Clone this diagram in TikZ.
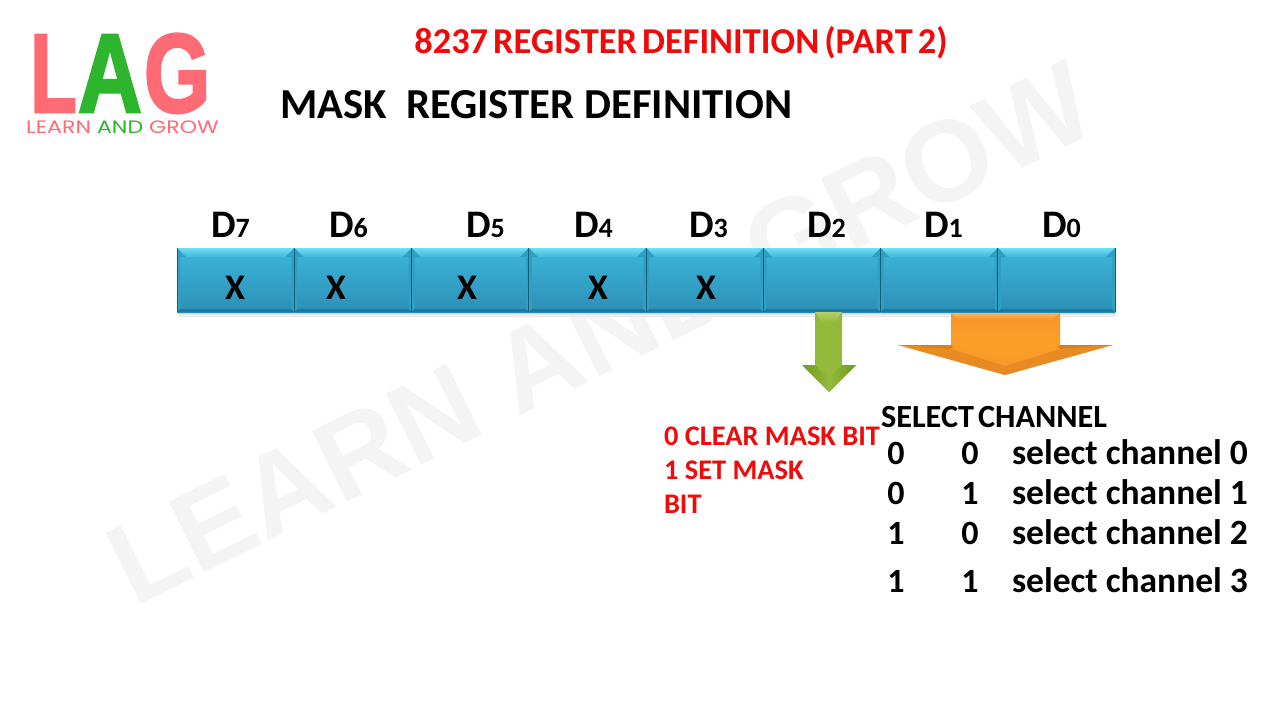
\documentclass[tikz,border=0pt]{standalone}
\usepackage{fontspec}
\setmainfont{Carlito}
\newfontfamily\logofont[BoldFeatures={FakeBold=2.5}]{Liberation Sans}
\newfontfamily\markfont{Liberation Sans}
\newfontfamily\logosub{Poppins}
\usetikzlibrary{calc,shadings}
\definecolor{lagred}{HTML}{FF6B75}
\definecolor{laggreen}{HTML}{2DB52D}
\definecolor{titlered}{HTML}{F00A0A}
\definecolor{cellmid}{HTML}{3DB6DB}
\definecolor{celllow}{HTML}{2C90B5}
\definecolor{celltopA}{HTML}{72DDF5}
\definecolor{celltopB}{HTML}{3FB8DC}
\definecolor{cellbot}{HTML}{22789A}
\definecolor{celledge}{HTML}{155D78}
\definecolor{cellcorner}{HTML}{2F9FC4}
\definecolor{markgrey}{HTML}{F4F4F4}
\definecolor{grnA}{HTML}{B4CF6A}
\definecolor{grnB}{HTML}{94BA3C}
\definecolor{grnC}{HTML}{6E9A1F}
\definecolor{orgA}{HTML}{F9B45A}
\definecolor{orgB}{HTML}{FB942B}
\definecolor{orgC}{HTML}{D97F1E}
\newcommand{\fs}[1]{\fontsize{#1}{#1}\selectfont}
\tikzset{
  x=1pt,y=-1pt,
  cellbox/.style={minimum width=117.25pt,minimum height=64pt,inner sep=0pt,outer sep=0pt,anchor=north west,
    top color=cellmid,bottom color=celllow},
  plain/.style={inner sep=0pt,outer sep=0pt,font=\bfseries,text=black},
  bitlabel/.style={plain,anchor=base west,font=\bfseries\fs{39}},
  xmark/.style={plain,font=\bfseries\fs{36}},
  redline/.style={inner sep=0pt,outer sep=0pt,anchor=base west,text=titlered,font=\bfseries\fs{28.4}},
  tablecell/.style={plain,anchor=base,font=\bfseries\fs{34}},
  tabletext/.style={plain,anchor=base west,font=\bfseries\fs{35.5}},
  logoletter/.style={inner sep=0pt,outer sep=0pt,anchor=base west,font=\logofont\bfseries\fs{112},transform shape},
}
\newcommand{\bitsub}[1]{D{\fs{28}#1}}
\begin{document}
\begin{tikzpicture}
\useasboundingbox (0,0) rectangle (1280,720);
\fill[white] (0,0) rectangle (1280,720);
% watermark
\node[inner sep=0pt,anchor=base,rotate=26.3,text=markgrey,font=\markfont\bfseries\fs{115}] (wm) at (618,368) {LEARN AND GROW};
% logo
\begin{scope}[shift={(35,112)},xscale=0.68]
\node[logoletter,text=lagred] (logoL) at (-7,0) {L};
\end{scope}
\begin{scope}[shift={(78,112)},xscale=0.79]
\node[logoletter,text=laggreen] (logoA) at (0,0) {A};
\end{scope}
\begin{scope}[shift={(144,112)},xscale=0.76]
\node[logoletter,text=lagred] (logoG) at (0,0) {G};
\end{scope}
\begin{scope}[shift={(26,133)},xscale=1.23]
\node[inner sep=0pt,anchor=base west,font=\logosub\fs{18},transform shape] (logotext) at (0,0)
  {\textcolor{lagred}{LEARN} \textcolor{laggreen}{AND} \textcolor{lagred}{GROW}};
\end{scope}
% titles
\node[inner sep=0pt,anchor=base,text=titlered,font=\bfseries\fs{36.4}] (title) at (681,53) {\spaceskip=0.14em 8237 REGISTER DEFINITION (PART 2)};
\node[plain,anchor=base west,font=\bfseries\fs{42.7}] (subtitle) at (280,118) {MASK\ \ REGISTER DEFINITION};
% soft shadow
\fill[black!8] (178,312) rectangle (1116,317);
\fill[black!18] (178,312) rectangle (1116,314);
% cells
\foreach \n/\xx in {7/177,6/294.25,5/411.5,4/528.75,3/646,2/763.25,1/880.5,0/997.75}{
  \node[cellbox] (c\n) at (\xx,248) {};
  \shade[top color=celltopA,bottom color=celltopB] (c\n.north west) -- (c\n.north east) -- ($(c\n.north east)+(-9,9)$) -- ($(c\n.north west)+(9,9)$) -- cycle;
  \fill[cellcorner] (c\n.north west) -- ($(c\n.north west)+(9,9)$) -- ($(c\n.north west)+(3,9)$) -- ($(c\n.south west)+(3,-3)$) -- (c\n.south west) -- cycle;
  \fill[cellcorner] (c\n.north east) -- ($(c\n.north east)+(-9,9)$) -- ($(c\n.north east)+(-3,9)$) -- ($(c\n.south east)+(-3,-3)$) -- (c\n.south east) -- cycle;
  \fill[cellbot] (c\n.south west) -- (c\n.south east) -- ($(c\n.south east)+(-3,-3)$) -- ($(c\n.south west)+(3,-3)$) -- cycle;
}
\foreach \n in {7,6,5,4,3,2,1,0}{
  \draw[celledge,line width=0.9pt] (c\n.north west) -- (c\n.south west);
  \draw[celledge,line width=0.9pt] (c\n.north east) -- (c\n.south east);
}
% bit labels
\foreach \n/\xx in {7/211,6/329,5/466,4/574,3/689,2/807,1/924,0/1042}{
  \node[bitlabel] (d\n) at (\xx,237) {\bitsub{\n}};
}
% x marks
\node[xmark] (x7) at (235,288) {X};
\node[xmark] (x6) at (336,288) {X};
\node[xmark] (x5) at (467,288) {X};
\node[xmark] (x4) at (598,288) {X};
\node[xmark] (x3) at (706,288) {X};
% green arrow
\fill[grnB] (815,312) -- (842,312) -- (842,365) -- (856,365) -- (829,392) -- (802,365) -- (815,365) -- cycle;
\shade[top color=grnA,bottom color=grnB] (815,312) -- (842,312) -- (835,322) -- (822,322) -- cycle;
\shade[left color=grnC,right color=grnB] (802,365) -- (829,392) -- (829,378) -- (815,365) -- cycle;
\shade[right color=grnC,left color=grnB] (856,365) -- (829,392) -- (829,378) -- (842,365) -- cycle;
% orange arrow
\shade[top color=orgB,bottom color=orgB,middle color=orgB!90!yellow]
  (951,313) -- (1060,313) -- (1060,345) -- (1113,345) -- (1005,375) -- (898,345) -- (951,345) -- cycle;
\shade[top color=orgA,bottom color=orgB] (951,313) -- (1060,313) -- (1052,320) -- (959,320) -- cycle;
\fill[orgC] (898,345) -- (951,345) -- (953,347) -- (951,349) -- cycle;
\fill[orgC] (1113,345) -- (1060,345) -- (1058,347) -- (1060,349) -- cycle;
\fill[orgC,opacity=.55] (898,345) -- (1005,375) -- (1113,345) -- (1060,349) -- (1005,366) -- (951,349) -- cycle;
% red text
\node[redline] (r1) at (664,445) {0 CLEAR MASK BIT};
\node[redline] (r2) at (664,479) {1 SET MASK};
\node[redline] (r3) at (664,513) {BIT};
% table
\node[plain,anchor=base west,font=\bfseries\fs{32.3}] (sel) at (881,427) {\spaceskip=0.12em SELECT CHANNEL};
\foreach \k/\a/\b/\yy in {0/0/0/464,1/0/1/504,2/1/0/544,3/1/1/592}{
  \node[tablecell] (ta\k) at (896,\yy) {\a};
  \node[tablecell] (tb\k) at (970,\yy) {\b};
  \node[tabletext] (tc\k) at (1012,\yy) {select channel \k};
}
\end{tikzpicture}
\end{document}
